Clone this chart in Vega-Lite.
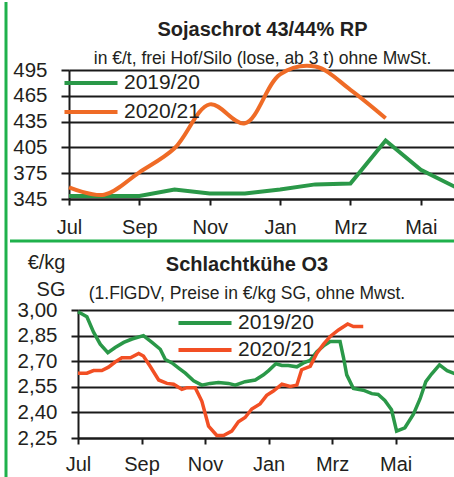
{
  "$schema": "https://vega.github.io/schema/vega-lite/v6.json",
  "background": "white",
  "padding": {"left": 3, "top": 0, "right": 0, "bottom": 0},
  "config": {
    "font": "Liberation Sans",
    "view": {"stroke": null},
    "axis": {"domainColor": "#1a1a1a", "domainWidth": 2, "tickColor": "#1a1a1a", "tickWidth": 2, "gridColor": "#1a1a1a", "gridWidth": 1.8, "labelColor": "#231f20", "labelFlush": false, "labelOverlap": false},
    "axisX": {"labelFont": "Liberation Sans", "labelFontSize": 20, "tickSize": 6, "labelPadding": 12, "grid": false},
    "axisY": {"labelFont": "Liberation Sans", "labelFontSize": 20.5},
    "title": {"font": "Liberation Sans", "fontSize": 20, "fontWeight": "bold", "color": "#231f20", "subtitleFont": "Liberation Sans", "subtitleFontSize": 17.5, "subtitleColor": "#231f20", "frame": "group", "subtitlePadding": 10},
    "legend": {"title": null, "orient": "none", "symbolType": "M-2.5,0H2.5", "symbolSize": 450, "symbolStrokeWidth": 4, "labelFont": "Liberation Sans", "labelFontSize": 21, "labelColor": "#231f20", "labelOffset": 20, "padding": 0}
  },
  "datasets": {
    "leer": [],
    "soja": [
      {"serie": "2019/20", "m": 0, "v": 348.5}, {"serie": "2019/20", "m": 1, "v": 348.5}, {"serie": "2019/20", "m": 2, "v": 348.5},
      {"serie": "2019/20", "m": 3, "v": 356}, {"serie": "2019/20", "m": 4, "v": 351.5}, {"serie": "2019/20", "m": 5, "v": 351.5},
      {"serie": "2019/20", "m": 6, "v": 356}, {"serie": "2019/20", "m": 7, "v": 362}, {"serie": "2019/20", "m": 8, "v": 363},
      {"serie": "2019/20", "m": 9, "v": 413}, {"serie": "2019/20", "m": 10, "v": 379}, {"serie": "2019/20", "m": 11, "v": 358.5},
      {"serie": "2020/21", "m": 0, "v": 358.5}, {"serie": "2020/21", "m": 1, "v": 350}, {"serie": "2020/21", "m": 2, "v": 376},
      {"serie": "2020/21", "m": 3, "v": 404}, {"serie": "2020/21", "m": 4, "v": 455}, {"serie": "2020/21", "m": 5, "v": 433},
      {"serie": "2020/21", "m": 6, "v": 490}, {"serie": "2020/21", "m": 7, "v": 499}, {"serie": "2020/21", "m": 8, "v": 472},
      {"serie": "2020/21", "m": 9, "v": 439}
    ],
    "kuehe": [
      {"serie": "2019/20", "m": 0.00, "v": 2.99}, {"serie": "2019/20", "m": 0.28, "v": 2.96}, {"serie": "2019/20", "m": 0.49, "v": 2.87},
      {"serie": "2019/20", "m": 0.70, "v": 2.80}, {"serie": "2019/20", "m": 0.94, "v": 2.75}, {"serie": "2019/20", "m": 1.17, "v": 2.78},
      {"serie": "2019/20", "m": 1.44, "v": 2.81}, {"serie": "2019/20", "m": 1.70, "v": 2.83}, {"serie": "2019/20", "m": 2.06, "v": 2.85},
      {"serie": "2019/20", "m": 2.33, "v": 2.81}, {"serie": "2019/20", "m": 2.59, "v": 2.77}, {"serie": "2019/20", "m": 2.75, "v": 2.71},
      {"serie": "2019/20", "m": 2.96, "v": 2.69}, {"serie": "2019/20", "m": 3.17, "v": 2.66}, {"serie": "2019/20", "m": 3.38, "v": 2.63},
      {"serie": "2019/20", "m": 3.64, "v": 2.585}, {"serie": "2019/20", "m": 3.90, "v": 2.56}, {"serie": "2019/20", "m": 4.16, "v": 2.57},
      {"serie": "2019/20", "m": 4.42, "v": 2.575}, {"serie": "2019/20", "m": 4.74, "v": 2.57}, {"serie": "2019/20", "m": 4.95, "v": 2.56},
      {"serie": "2019/20", "m": 5.26, "v": 2.58}, {"serie": "2019/20", "m": 5.58, "v": 2.59}, {"serie": "2019/20", "m": 5.84, "v": 2.62},
      {"serie": "2019/20", "m": 6.00, "v": 2.645}, {"serie": "2019/20", "m": 6.23, "v": 2.685}, {"serie": "2019/20", "m": 6.42, "v": 2.675},
      {"serie": "2019/20", "m": 6.62, "v": 2.675}, {"serie": "2019/20", "m": 6.89, "v": 2.667}, {"serie": "2019/20", "m": 7.10, "v": 2.69},
      {"serie": "2019/20", "m": 7.31, "v": 2.705}, {"serie": "2019/20", "m": 7.52, "v": 2.755}, {"serie": "2019/20", "m": 7.73, "v": 2.79},
      {"serie": "2019/20", "m": 7.94, "v": 2.815}, {"serie": "2019/20", "m": 8.25, "v": 2.815}, {"serie": "2019/20", "m": 8.36, "v": 2.72},
      {"serie": "2019/20", "m": 8.46, "v": 2.62}, {"serie": "2019/20", "m": 8.67, "v": 2.54}, {"serie": "2019/20", "m": 8.98, "v": 2.53},
      {"serie": "2019/20", "m": 9.25, "v": 2.51}, {"serie": "2019/20", "m": 9.45, "v": 2.505}, {"serie": "2019/20", "m": 9.66, "v": 2.47},
      {"serie": "2019/20", "m": 9.87, "v": 2.415}, {"serie": "2019/20", "m": 10.03, "v": 2.29}, {"serie": "2019/20", "m": 10.29, "v": 2.31},
      {"serie": "2019/20", "m": 10.56, "v": 2.39}, {"serie": "2019/20", "m": 10.77, "v": 2.48}, {"serie": "2019/20", "m": 10.95, "v": 2.58},
      {"serie": "2019/20", "m": 11.13, "v": 2.625}, {"serie": "2019/20", "m": 11.38, "v": 2.678}, {"serie": "2019/20", "m": 11.62, "v": 2.645},
      {"serie": "2019/20", "m": 11.89, "v": 2.625},
      {"serie": "2020/21", "m": 0.00, "v": 2.63}, {"serie": "2020/21", "m": 0.28, "v": 2.63}, {"serie": "2020/21", "m": 0.49, "v": 2.645},
      {"serie": "2020/21", "m": 0.75, "v": 2.645}, {"serie": "2020/21", "m": 0.96, "v": 2.665}, {"serie": "2020/21", "m": 1.17, "v": 2.695},
      {"serie": "2020/21", "m": 1.38, "v": 2.72}, {"serie": "2020/21", "m": 1.65, "v": 2.72}, {"serie": "2020/21", "m": 1.91, "v": 2.745},
      {"serie": "2020/21", "m": 2.06, "v": 2.73}, {"serie": "2020/21", "m": 2.27, "v": 2.67}, {"serie": "2020/21", "m": 2.54, "v": 2.59},
      {"serie": "2020/21", "m": 2.80, "v": 2.57}, {"serie": "2020/21", "m": 3.01, "v": 2.565}, {"serie": "2020/21", "m": 3.27, "v": 2.535},
      {"serie": "2020/21", "m": 3.43, "v": 2.545}, {"serie": "2020/21", "m": 3.69, "v": 2.545}, {"serie": "2020/21", "m": 3.90, "v": 2.465},
      {"serie": "2020/21", "m": 4.11, "v": 2.32}, {"serie": "2020/21", "m": 4.37, "v": 2.265}, {"serie": "2020/21", "m": 4.58, "v": 2.265},
      {"serie": "2020/21", "m": 4.84, "v": 2.29}, {"serie": "2020/21", "m": 5.05, "v": 2.345}, {"serie": "2020/21", "m": 5.26, "v": 2.37},
      {"serie": "2020/21", "m": 5.47, "v": 2.42}, {"serie": "2020/21", "m": 5.73, "v": 2.45}, {"serie": "2020/21", "m": 5.94, "v": 2.50},
      {"serie": "2020/21", "m": 6.15, "v": 2.525}, {"serie": "2020/21", "m": 6.42, "v": 2.565}, {"serie": "2020/21", "m": 6.68, "v": 2.552},
      {"serie": "2020/21", "m": 6.89, "v": 2.56}, {"serie": "2020/21", "m": 7.04, "v": 2.65}, {"serie": "2020/21", "m": 7.31, "v": 2.67},
      {"serie": "2020/21", "m": 7.52, "v": 2.747}, {"serie": "2020/21", "m": 7.73, "v": 2.80}, {"serie": "2020/21", "m": 7.94, "v": 2.845},
      {"serie": "2020/21", "m": 8.20, "v": 2.883}, {"serie": "2020/21", "m": 8.49, "v": 2.918}, {"serie": "2020/21", "m": 8.67, "v": 2.903},
      {"serie": "2020/21", "m": 8.98, "v": 2.903}
    ]
  },
  "spacing": 0,
  "hconcat": [
    {
      "data": {"name": "leer"},
      "mark": "point",
      "width": 1,
      "height": 477,
      "view": {"stroke": "#1fb14c", "strokeWidth": 3, "strokeDash": [0, 1, 477, 5000]}
    },
    {
      "spacing": 0,
      "resolve": {"scale": {"color": "independent", "x": "independent", "y": "independent"}, "legend": {"color": "independent"}},
      "vconcat": [
        {
          "data": {"name": "leer"},
          "mark": "point",
          "width": 10,
          "height": 18
        },
        {
          "spacing": 0,
          "resolve": {"scale": {"color": "independent", "x": "independent", "y": "independent"}, "legend": {"color": "independent"}},
          "hconcat": [
            {"data": {"name": "leer"}, "mark": "point", "width": 1, "height": 1},
            {
              "width": 387,
              "height": 129,
              "title": {"text": "Sojaschrot 43/44% RP", "subtitle": "in €/t, frei Hof/Silo (lose, ab 3 t) ohne MwSt.", "anchor": "middle", "offset": -10},
              "data": {"name": "soja"},
              "encoding": {
                "x": {"field": "m", "type": "quantitative", "title": null, "scale": {"domain": [0, 11], "nice": false},
                      "axis": {"values": [0, 2, 4, 6, 8, 10], "labelExpr": "['Jul','Aug','Sep','Okt','Nov','Dez','Jan','Feb','Mrz','Apr','Mai','Jun'][datum.value]"}},
                "y": {"field": "v", "type": "quantitative", "title": null, "scale": {"domain": [345, 495], "nice": false, "zero": false},
                      "axis": {"values": [345, 375, 405, 435, 465, 495], "grid": true, "tickSize": 8, "labelPadding": 14, "minExtent": 58, "maxExtent": 58}},
                "color": {"field": "serie", "type": "nominal", "scale": {"domain": ["2019/20", "2020/21"], "range": ["#2a9848", "#ef6b26"]},
                          "legend": {"legendX": 9, "legendY": 0, "rowPadding": 6}}
              },
              "layer": [
                {"transform": [{"filter": "datum.serie === '2019/20'"}], "mark": {"type": "line", "strokeWidth": 4, "clip": false}},
                {"transform": [{"filter": "datum.serie === '2020/21'"}], "mark": {"type": "line", "strokeWidth": 4, "interpolate": "catmull-rom", "clip": false}}
              ]
            }
          ]
        },
        {
          "data": {"name": "leer"},
          "mark": "point",
          "width": 10,
          "height": 2
        },
        {
          "data": {"name": "leer"},
          "mark": "point",
          "width": 448,
          "height": 9.2,
          "view": {"stroke": "#1fb14c", "strokeWidth": 3, "strokeDash": [450, 4000]}
        },
        {
          "spacing": 0,
          "resolve": {"scale": {"color": "independent", "x": "independent", "y": "independent"}, "legend": {"color": "independent"}},
          "hconcat": [
            {"data": {"name": "leer"}, "mark": "point", "width": 1, "height": 1},
            {
              "width": 378,
              "height": 128,
              "title": {"text": "Schlachtkühe O3", "subtitle": "(1.FlGDV, Preise in €/kg SG, ohne Mwst.", "anchor": "middle", "dx": -20, "offset": -50},
              "data": {"name": "kuehe"},
              "encoding": {
                "x": {"field": "m", "type": "quantitative", "title": null, "scale": {"domain": [0, 11.9], "nice": false},
                      "axis": {"values": [0, 2, 4, 6, 8, 10], "labelPadding": 10, "labelExpr": "['Jul','Aug','Sep','Okt','Nov','Dez','Jan','Feb','Mrz','Apr','Mai','Jun'][datum.value]"}},
                "y": {"field": "v", "type": "quantitative", "scale": {"domain": [2.25, 3.0], "nice": false, "zero": false},
                      "axis": {"values": [2.25, 2.4, 2.55, 2.7, 2.85, 3.0], "grid": true, "tickSize": 7, "labelPadding": 14, "minExtent": 67, "maxExtent": 67,
                               "labelExpr": "replace(format(datum.value, '.2f'), '.', ',')",
                               "title": ["€/kg", "SG"], "titleAngle": 0, "titleAlign": "right", "titleBaseline": "alphabetic", "titleX": -13, "titleY": -42,
                               "titleLineHeight": 27, "titleFont": "Liberation Sans", "titleFontSize": 20, "titleFontWeight": "normal", "titleColor": "#231f20"}},
                "color": {"field": "serie", "type": "nominal", "scale": {"domain": ["2019/20", "2020/21"], "range": ["#2a9848", "#f24f24"]},
                          "legend": {"legendX": 114, "legendY": 0, "rowPadding": 4}}
              },
              "layer": [
                {"mark": {"type": "line", "strokeWidth": 3.5, "clip": false}}
              ]
            }
          ]
        }
      ]
    }
  ]
}
